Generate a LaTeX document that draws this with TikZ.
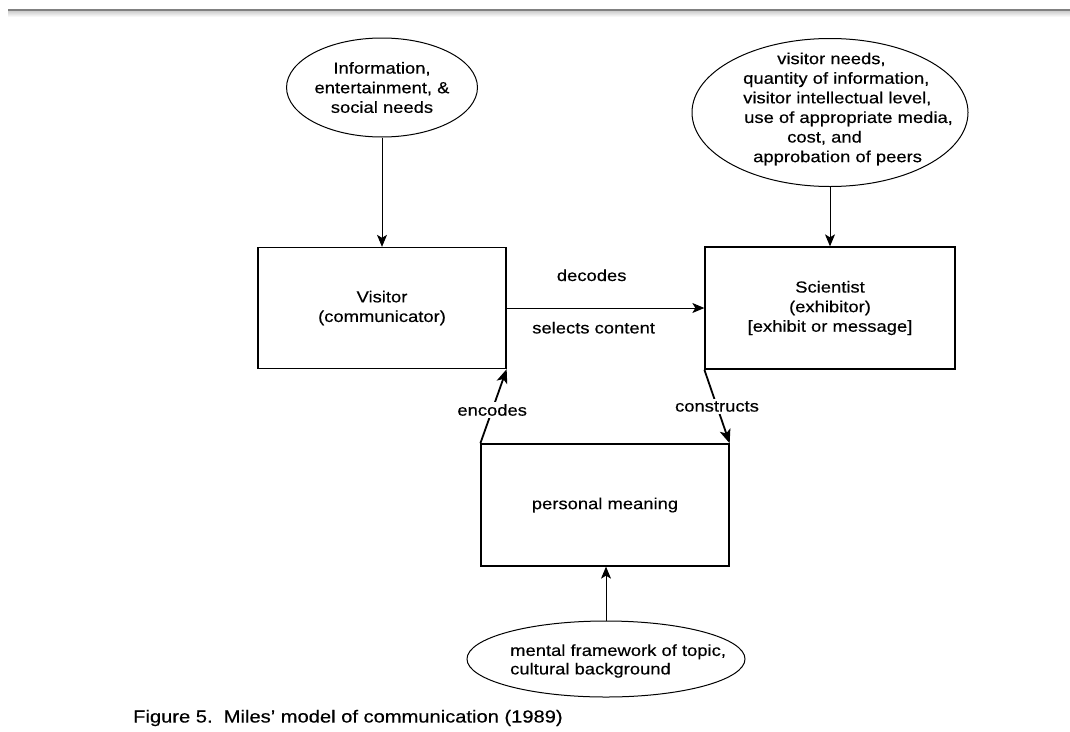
\documentclass[tikz,border=0pt]{standalone}
\usepackage{fontspec}
\setmainfont{Liberation Sans}[FakeStretch=1.15,FakeBold=0.4]
\usetikzlibrary{shapes.geometric,arrows.meta}
\begin{document}
\begin{tikzpicture}[x=1pt,y=-1pt,
  every node/.style={font=\fontsize{16}{19.6}\selectfont},
  box/.style={draw, line width=1.3pt, inner sep=0pt, align=center},
  oval/.style={draw, ellipse, line width=1pt, inner sep=0pt},
  conn/.style={line width=1pt, -{Stealth[length=12pt,width=10pt,inset=3pt]}},
  thickconn/.style={line width=1.8pt, -{Stealth[length=14pt,width=11pt,inset=3.5pt]}},
  lbl/.style={fill=white, inner sep=2pt},
  txt/.style={inner sep=0pt, align=left}]
\useasboundingbox (0,0) rectangle (1070,731);
% top rule of the page
\shade[top color=gray!45, bottom color=white] (8,10) rectangle (1070,17);
\draw[gray, line width=1.5pt] (8,10) -- (1070,10);

% ellipses
\node[oval, minimum width=175pt, minimum height=99pt, align=center] (e1) at (382,87.5)
  {Information,\\entertainment, \&\\social needs};
\node[oval, minimum width=276pt, minimum height=148pt] (e2) at (830,112.5) {};
\node[txt, anchor=west] (t2) at (743,109)
  {\hspace*{34pt}visitor needs,\\quantity of information,\\visitor intellectual level,\\\hspace*{1pt}use of appropriate media,\\\hspace*{44pt}cost, and\\\hspace*{10pt}approbation of peers};
\node[oval, minimum width=278pt, minimum height=76pt] (e3) at (606,659) {};
\node[txt, anchor=west, font=\fontsize{16}{18.5}\selectfont] (t3) at (510,661)
  {mental framework of topic,\\cultural background};

% boxes
\node[box, minimum width=248pt, minimum height=121pt] (visitor) at (382,308)
  {Visitor\\(communicator)};
\node[box, minimum width=250pt, minimum height=122pt] (scientist) at (830,308)
  {Scientist\\(exhibitor)\\{[}exhibit or message{]}};
\node[box, minimum width=248pt, minimum height=122pt] (pm) at (605,505)
  {personal meaning};

% connectors
\draw[conn] (e1.south) -- (visitor.north);
\draw[conn] (e2.south -| scientist.north) -- (scientist.north);
\draw[conn] (visitor.east) -- (scientist.west)
  node[pos=0.43, above=23pt] (dec) {decodes}
  node[pos=0.44, below=10pt] (sel) {selects content};
\draw[conn] (e3.north) -- (e3.north |- pm.south);
\draw[thickconn] (pm.north west) -- node[lbl, pos=0.45] (enc) {encodes} (visitor.south east);
\draw[thickconn] (scientist.south west) -- node[lbl, pos=0.5] (con) {constructs} (pm.north east);

% caption
\node[anchor=west, inner sep=0pt, font=\fontsize{17.5}{20}\selectfont] (cap) at (133,718)
  {Figure 5.\ \ Miles' model of communication (1989)};
\end{tikzpicture}
\end{document}
